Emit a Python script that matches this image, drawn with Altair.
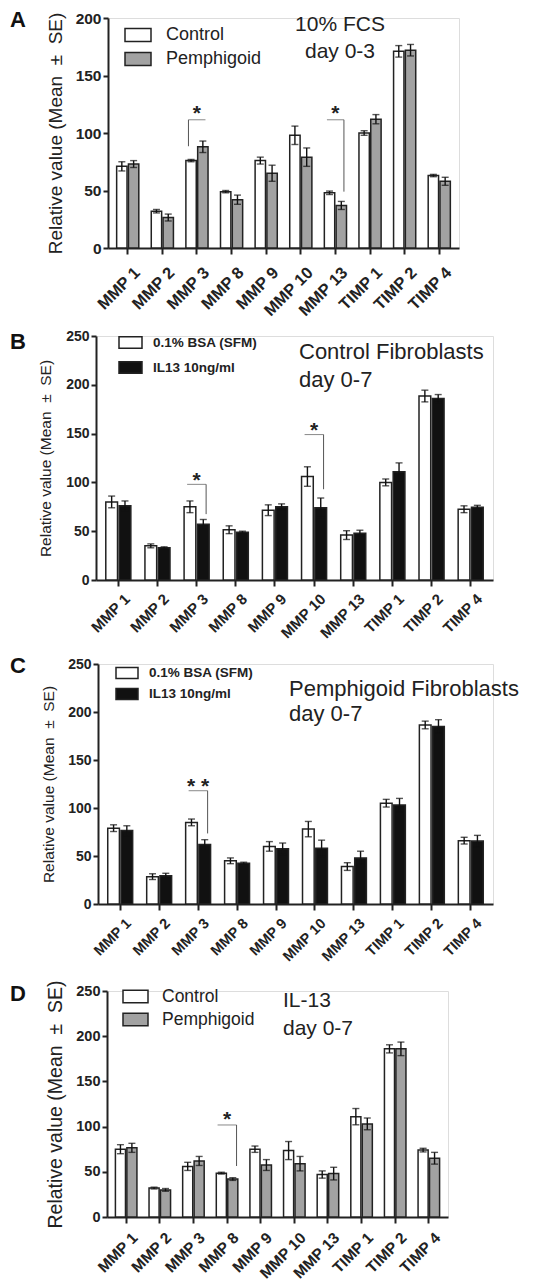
import altair as alt
import pandas as pd

FONT = "Liberation Sans"
INK = "#222222"
HATCH = "#a2a2a2"

genes = ["MMP 1", "MMP 2", "MMP 3", "MMP 8", "MMP 9", "MMP 10", "MMP 13", "TIMP 1", "TIMP 2", "TIMP 4"]
grp_cp = ["Control", "Pemphigoid"]
grp_bi = ["0.1% BSA (SFM)", "IL13 10ng/ml"]
y_title = "Relative value (Mean\u00a0\u00a0\u00b1\u00a0\u00a0SE)"

# ---- Panel A: 10% FCS day 0-3 ----
a_ctrl = [71, 32, 76, 49, 76, 98, 48, 100, 171, 63]
a_ctrl_se = [4, 1.5, 1, 1, 3, 8, 1.5, 2, 5, 1]
a_pem = [73, 26.5, 88, 42, 65, 79, 37, 112, 172, 58]
a_pem_se = [3, 3, 5, 4, 7, 8, 3.5, 4, 5, 3.5]
a_note = "10% FCS\nday 0-3"
a_br_gene = ["MMP 3", "MMP 13"]
a_br_top = [111.5, 111.5]
a_br_bottom = [88.5, 49]
a_br_side = ["left", "right"]
a_br_star_y = [121, 121]
a_br_star = ["*", "*"]

# ---- Panel B: Control fibroblasts day 0-7 ----
b_bsa = [80, 35, 75, 51.5, 71.5, 106, 46, 100, 188.5, 72.5]
b_bsa_se = [6, 2, 6, 4, 5.5, 10, 4.5, 3.5, 6, 3.5]
b_il13 = [76, 33, 57, 49, 75, 74, 48, 111, 186, 74.5]
b_il13_se = [5, 1, 5, 1, 3, 10, 3, 9, 4, 2]
b_note = "Control Fibroblasts\nday 0-7"
b_br_gene = ["MMP 3", "MMP 10"]
b_br_top = [98, 149]
b_br_bottom = [67.5, 93]
b_br_side = ["right", "right"]
b_br_star_y = [107, 158]
b_br_star = ["*", "*"]

# ---- Panel C: Pemphigoid fibroblasts day 0-7 ----
c_bsa = [79, 28.5, 85, 45, 60, 78, 39, 105, 186.5, 66]
c_bsa_se = [3.5, 3, 3.5, 3, 5, 8, 4, 4, 4, 3.5]
c_il13 = [76.5, 29.5, 62, 42.5, 57.5, 58, 48, 103, 185, 65.5]
c_il13_se = [5, 2.5, 5, 1, 6, 8.5, 7, 7, 7, 6]
c_note = "Pemphigoid Fibroblasts\nday 0-7"
c_br_gene = ["MMP 3"]
c_br_top = [118]
c_br_bottom = [73.5]
c_br_side = ["right"]
c_br_star_y = [127]
c_br_star = ["* *"]

# ---- Panel D: IL-13 day 0-7 ----
d_ctrl = [75, 32, 56, 48.5, 75, 73.5, 47, 111, 186, 74]
d_ctrl_se = [5, 1, 4.5, 1, 3.5, 10, 4, 9, 4.5, 2]
d_pem = [76.5, 30, 62, 42, 57.5, 59, 48, 103, 186, 65]
d_pem_se = [5, 1.5, 5, 1.5, 6, 8, 7, 6.5, 7.5, 6.5]
d_note = "IL-13\nday 0-7"
d_br_gene = ["MMP 8"]
d_br_top = [101.8]
d_br_bottom = [56.4]
d_br_side = ["right"]
d_br_star_y = [112.5]
d_br_star = ["*"]

RECT = "M-1,-0.5H1V0.5H-1Z"


def table(groups, v1, e1, v2, e2):
    rows = []
    for g, vals, errs in ((groups[0], v1, e1), (groups[1], v2, e2)):
        for gene, v, e in zip(genes, vals, errs):
            rows.append({"gene": gene, "group": g, "value": v, "lo": v - e, "hi": v + e})
    return pd.DataFrame(rows)


def panel(p):
    df = table(p["groups"], *p["data"])
    br = pd.DataFrame({"gene": p["br"][0], "top": p["br"][1], "bottom": p["br"][2],
                       "side": p["br"][3], "sy": p["br"][4], "star": p["br"][5]})
    ymax = p["ymax"]
    yscale = alt.Scale(domain=[0, ymax], nice=False)
    xscale = alt.Scale(paddingInner=0.36, paddingOuter=0.25)
    oscale = alt.Scale(paddingInner=0.12)
    xaxis = alt.Axis(title=None, labelAngle=-45, labelFont=FONT, labelFontSize=p["xfs"],
                     labelFontWeight="bold", labelColor=INK, tickSize=6, tickWidth=2,
                     tickColor=INK, domainWidth=2, domainColor=INK,
                     labelPadding=p["xpad"], labelOffset=4)
    yaxis = alt.Axis(title=y_title, values=list(range(0, ymax + 1, 50)), grid=False,
                     labelFont=FONT, labelFontSize=p["yfs"], labelFontWeight="bold",
                     labelColor=INK, tickSize=5, tickWidth=2, tickColor=INK,
                     domainWidth=2, domainColor=INK, labelPadding=2,
                     titleFont=FONT, titleFontSize=p["tfs"], titleFontWeight="normal",
                     titleColor=INK, titlePadding=p["tpad"])
    X = alt.X("gene:N", sort=genes, scale=xscale, axis=xaxis)

    def Y(field):
        return alt.Y(field, type="quantitative", scale=yscale, axis=yaxis)

    O = alt.XOffset("group:N", sort=p["groups"], scale=oscale)
    base = alt.Chart(df)
    legend = alt.Legend(orient="none", legendX=p["lx"], legendY=p["ly"], title=None,
                        symbolType=RECT, symbolSize=p["ss"], symbolStrokeColor=INK,
                        symbolStrokeWidth=1.5, labelFont=FONT, labelFontSize=p["lfs"],
                        labelFontWeight=p["lfw"], labelColor=INK, labelOffset=p["loff"],
                        rowPadding=p["rp"], padding=0)
    bars = base.mark_bar(stroke=INK, strokeWidth=1.5).encode(
        x=X, xOffset=O, y=Y("value"),
        fill=alt.Fill("group:N", sort=p["groups"],
                      scale=alt.Scale(domain=p["groups"], range=p["fills"]), legend=legend),
    )
    err = base.mark_rule(color="#111", strokeWidth=1.4).encode(
        x=X, xOffset=O, y=Y("lo"), y2="hi:Q")
    cap_hi = base.mark_tick(orient="horizontal", size=7, thickness=1.4, color="#111").encode(
        x=X, xOffset=O, y=Y("hi"))
    cap_lo = base.mark_tick(orient="horizontal", size=7, thickness=1.4, color="#111").encode(
        x=X, xOffset=O, y=Y("lo"))
    bb = alt.Chart(br)
    w = p["bw"]
    hbar = bb.mark_tick(orient="horizontal", size=w, thickness=1, color="#555").encode(
        x=X, y=Y("top"))
    vleft = bb.transform_filter(alt.datum.side == "left").mark_rule(
        color="#555", strokeWidth=1, xOffset=-w / 2).encode(
        x=X, y=Y("bottom"), y2="top:Q")
    vright = bb.transform_filter(alt.datum.side == "right").mark_rule(
        color="#555", strokeWidth=1, xOffset=w / 2).encode(
        x=X, y=Y("bottom"), y2="top:Q")
    star = bb.mark_text(font=FONT, fontSize=21, fontWeight="bold", color=INK,
                        baseline="middle", dy=5).encode(
        x=X, y=Y("sy"), text="star:N")
    note = alt.Chart(pd.DataFrame({"t": [p["note"]]})).mark_text(
        font=FONT, fontSize=p["nfs"], color=INK, align=p["nalign"], baseline="alphabetic",
        lineBreak="\n", lineHeight=p["nlh"]).encode(
        x=alt.value(p["nx"]), y=alt.value(p["ny"]), text="t:N")
    letter = alt.Chart(pd.DataFrame({"t": [p["letter"]]})).mark_text(
        font=FONT, fontSize=22, fontWeight="bold", color="#111", align="left",
        baseline="alphabetic").encode(
        x=alt.value(p["letx"]), y=alt.value(p["lety"]), text="t:N")
    # invisible vertical extent keeper (sets the gap between stacked panels)
    extent = alt.Chart(pd.DataFrame({"t": [0]})).mark_rule(
        stroke="white", strokeOpacity=0, strokeWidth=1).encode(
        x=alt.value(0), y=alt.value(-p["top_gap"]), y2=alt.value(p["h"] + p["bottom_gap"]))
    layered = alt.layer(bars, err, cap_hi, cap_lo, hbar, vleft, vright, star, note, letter,
                        extent).properties(width=p["w"], height=p["h"])
    spacer = alt.Chart(pd.DataFrame({"t": [""]})).mark_text().encode(
        text="t:N").properties(width=1, height=1)
    return alt.hconcat(spacer, layered, spacing=0).resolve_scale(
        fill="independent").resolve_legend(fill="independent")


pa = panel(dict(groups=grp_cp, data=(a_ctrl, a_ctrl_se, a_pem, a_pem_se), fills=["white", HATCH],
                br=(a_br_gene, a_br_top, a_br_bottom, a_br_side, a_br_star_y, a_br_star),
                ymax=200, w=351, h=230, xfs=16.5, yfs=15.5, tfs=19, tpad=10, xpad=10,
                lx=16, ly=3, ss=676, lfs=18, lfw="normal", loff=14, rp=0, bw=17,
                note=a_note, nfs=21, nalign="center", nlh=27, nx=232, ny=13,
                letter="A", letx=-98, lety=9, top_gap=0, bottom_gap=72))
pb = panel(dict(groups=grp_bi, data=(b_bsa, b_bsa_se, b_il13, b_il13_se), fills=["white", "#111"],
                br=(b_br_gene, b_br_top, b_br_bottom, b_br_side, b_br_star_y, b_br_star),
                ymax=250, w=397, h=244, xfs=15, yfs=14, tfs=15.5, tpad=12, xpad=5,
                lx=22, ly=-6, ss=529, lfs=13.5, lfw="bold", loff=10, rp=3, bw=19,
                note=b_note, nfs=22, nalign="left", nlh=28, nx=203, ny=23,
                letter="B", letx=-86, lety=13, top_gap=14, bottom_gap=70))
pc = panel(dict(groups=grp_bi, data=(c_bsa, c_bsa_se, c_il13, c_il13_se), fills=["white", "#111"],
                br=(c_br_gene, c_br_top, c_br_bottom, c_br_side, c_br_star_y, c_br_star),
                ymax=250, w=395, h=240, xfs=14.5, yfs=14, tfs=15.5, tpad=11, xpad=6,
                lx=17, ly=-3, ss=484, lfs=13.5, lfw="bold", loff=10, rp=0, bw=19,
                note=c_note, nfs=22, nalign="left", nlh=25, nx=191, ny=32,
                letter="C", letx=-88, lety=9, top_gap=12, bottom_gap=70))
pd_ = panel(dict(groups=grp_cp, data=(d_ctrl, d_ctrl_se, d_pem, d_pem_se), fills=["white", HATCH],
                 br=(d_br_gene, d_br_top, d_br_bottom, d_br_side, d_br_star_y, d_br_star),
                 ymax=250, w=341, h=226, xfs=15.5, yfs=14.5, tfs=19.5, tpad=10, xpad=7,
                 lx=15, ly=-8, ss=625, lfs=17.5, lfw="normal", loff=13, rp=0, bw=19,
                 note=d_note, nfs=21, nalign="left", nlh=28, nx=176, ny=16,
                 letter="D", letx=-97, lety=10, top_gap=15, bottom_gap=0))

chart = alt.vconcat(pa, pb, pc, pd_, spacing=0).resolve_scale(
    x="independent", y="independent", fill="independent", xOffset="independent"
).resolve_axis(x="independent", y="independent").resolve_legend(fill="independent").properties(
    padding={"left": 0, "top": 0, "right": 5, "bottom": 5}
).configure_view(strokeWidth=0).configure(background="white")

chart.save("out.html", embed_options={"renderer": "svg", "actions": False})
